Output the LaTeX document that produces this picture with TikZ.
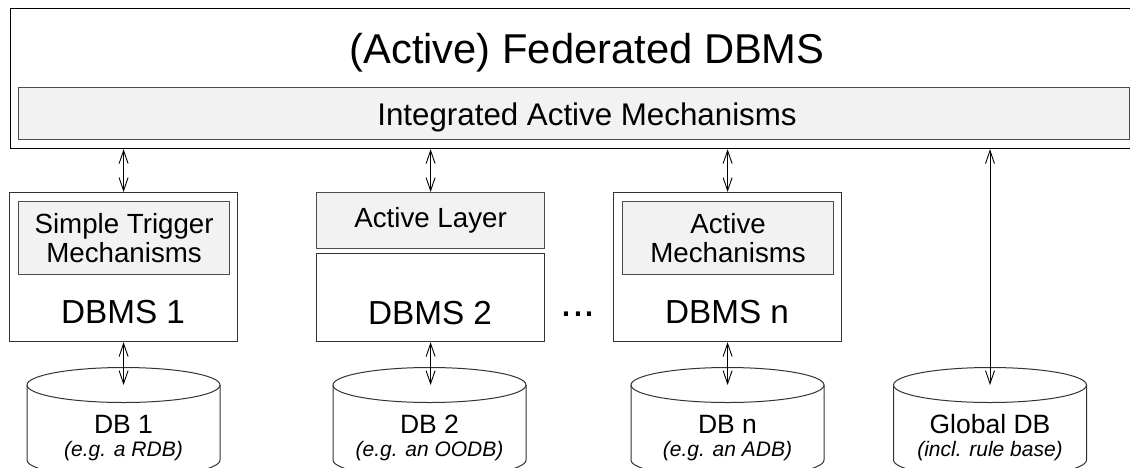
\documentclass[tikz,border=0pt]{standalone}
\usepackage{fontspec}
\setmainfont{Liberation Sans}
\usetikzlibrary{arrows.meta}
\newcommand\dbcyl[2]{%
  \draw[cyl] (#1-96.5,385) -- (#1-96.5,460)
    arc[start angle=180,end angle=360,x radius=96.5pt,y radius=17.5pt]
    -- (#1+96.5,385);
  \draw[cyl] (#1,385) ellipse[x radius=96.5pt,y radius=17.5pt];
  \coordinate (#2) at (#1,385);
}
\begin{document}
\begin{tikzpicture}[x=1pt,y=-1pt,
  box/.style={draw=black!80, line width=1.2pt, fill=white, inner sep=0pt, anchor=north west},
  gbox/.style={draw=black!70, line width=1.2pt, fill=black!5, inner sep=0pt, anchor=north west,
    align=center, font=\fontsize{27.7}{29}\selectfont},
  big/.style={anchor=base, inner sep=0pt, font=\fontsize{33.3}{38}\selectfont},
  dbl/.style={anchor=base, inner sep=0pt, font=\fontsize{26.5}{30}\selectfont},
  dbs/.style={anchor=base, inner sep=0pt, font=\fontsize{21}{24}\selectfont\itshape},
  arr/.style={{Straight Barb[length=13pt,width=9pt]}-{Straight Barb[length=13pt,width=9pt]}, line width=0.9pt},
  cyl/.style={draw=black!80, line width=1pt},
  ]
\useasboundingbox (0,0) rectangle (1130,467);
\clip (0,0) rectangle (1130,467);
\fill[white] (0,0) rectangle (1130,467);

% federated DBMS
\node[box, draw=black, minimum width=1150pt, minimum height=140pt] (fed) at (10,8) {};
\node[gbox, minimum width=1111pt, minimum height=52pt] (iam) at (18,87) {};
\node[anchor=base, inner sep=0pt, font=\fontsize{41.7}{50}\selectfont] (title) at (587,63) {(Active) Federated DBMS};
\node[anchor=base, inner sep=0pt, font=\fontsize{31.3}{36}\selectfont] (iamtext) at (587,125) {Integrated Active Mechanisms};

% DBMS 1
\node[box, minimum width=228pt, minimum height=149pt] (dbms1) at (9,192) {};
\node[gbox, minimum width=211pt, minimum height=73pt] (stm) at (18,201) {Simple Trigger\\Mechanisms};
\node[big] (dbms1text) at (123,323) {DBMS 1};

% DBMS 2
\node[gbox, minimum width=228pt, minimum height=56pt] (alayer) at (316,192) {Active Layer};
\node[box, minimum width=228pt, minimum height=88pt] (dbms2) at (316,253) {};
\node[big] (dbms2text) at (430,324) {DBMS 2};

\node[anchor=base, inner sep=0pt, font=\fontsize{43}{48}\selectfont] (dots) at (578,316) {...};

% DBMS n
\node[box, minimum width=228pt, minimum height=149pt] (dbmsn) at (613,192) {};
\node[gbox, minimum width=211pt, minimum height=73pt] (am) at (622,201) {Active\\Mechanisms};
\node[big] (dbmsntext) at (727,323) {DBMS n};

% databases
\dbcyl{123.5}{db1}
\dbcyl{429.5}{db2}
\dbcyl{727.5}{dbn}
\dbcyl{990}{gdb}
\node[dbl] (db1l) at (123.5,433) {DB 1};
\node[dbs] (db1s) at (123.5,456) {(e.g. a RDB)};
\node[dbl] (db2l) at (429.5,433) {DB 2};
\node[dbs] (db2s) at (429.5,456) {(e.g. an OODB)};
\node[dbl] (dbnl) at (727.5,433) {DB n};
\node[dbs] (dbns) at (727.5,456) {(e.g. an ADB)};
\node[dbl] (gdbl) at (990,433) {Global DB};
\node[dbs] (gdbs) at (990,456) {(incl. rule base)};

% connectors
\draw[arr] (fed.south -| dbms1.north) -- (dbms1.north);
\draw[arr] (fed.south -| alayer.north) -- (alayer.north);
\draw[arr] (fed.south -| dbmsn.north) -- (dbmsn.north);
\draw[arr] (fed.south -| gdb) -- (gdb);
\draw[arr] (dbms1.south) -- (dbms1.south |- db1);
\draw[arr] (dbms2.south) -- (dbms2.south |- db2);
\draw[arr] (dbmsn.south) -- (dbmsn.south |- dbn);
\end{tikzpicture}
\end{document}
